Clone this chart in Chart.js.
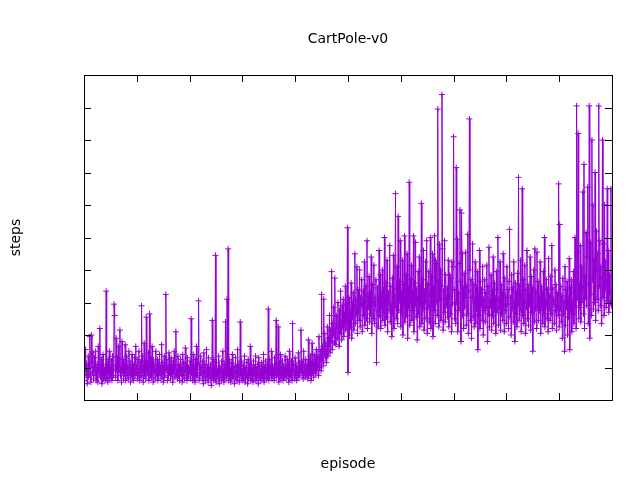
<!DOCTYPE html>
<html>
<head>
<meta charset="utf-8">
<script src="https://cdn.jsdelivr.net/npm/chart.js@4/dist/chart.umd.min.js"></script>
<style>
html,body{margin:0;padding:0;background:#fff;}
#c{display:block;}
</style>
</head>
<body>
<canvas id="c" width="640" height="480"></canvas>
<script>
// steps per episode (episodes 0..999)
const steps = [
24,12,19,31,15,22,10,18,27,14,21,39,16,11,40,23,17,29,13,20,
26,15,30,12,18,22,11,33,19,16,44,14,21,25,10,17,28,13,20,15,
12,19,67,14,22,11,25,17,30,13,20,16,24,12,27,18,15,59,52,21,
14,38,19,26,12,33,17,23,43,15,20,11,36,18,25,13,22,16,34,12,
19,27,15,21,13,30,17,24,11,20,16,28,14,22,12,18,26,15,33,17,
21,13,25,16,30,12,19,23,14,58,17,27,11,20,35,15,24,13,51,18,
22,16,29,12,53,20,15,26,14,33,18,11,24,17,21,13,30,16,19,25,
12,22,15,28,17,20,13,34,16,23,11,19,27,14,21,65,18,25,12,20,
15,29,17,22,13,26,16,20,11,24,18,30,14,21,42,16,19,13,27,15,
22,12,18,25,16,20,11,28,15,23,13,19,32,17,21,12,26,14,20,16,
18,24,13,50,17,22,12,28,15,20,11,25,16,33,14,19,23,61,12,21,
15,27,17,20,13,24,10,29,16,22,12,18,31,14,20,11,26,15,19,13,
22,9,17,49,14,25,12,20,16,89,11,23,15,18,13,27,10,21,16,19,
12,24,14,30,17,11,22,15,48,13,20,62,16,93,12,25,14,19,11,23,
15,28,13,18,21,10,17,26,14,20,12,31,16,22,11,19,48,15,24,13,
18,12,21,15,27,11,19,14,23,16,10,25,13,20,17,33,12,22,15,18,
11,24,16,20,13,27,12,19,15,22,10,26,14,21,17,12,23,15,19,13,
28,11,20,16,24,13,18,22,14,56,12,25,17,20,15,30,13,21,16,19,
12,26,15,22,49,14,20,17,45,11,23,16,28,13,19,15,24,12,21,18,
14,27,16,20,13,25,17,22,11,30,15,19,14,24,12,47,18,22,16,13,
26,15,21,12,19,17,29,14,23,16,20,43,18,24,15,13,30,17,21,14,
25,16,19,22,13,37,18,24,15,27,12,21,35,17,23,14,28,19,25,16,
31,18,22,27,15,39,20,25,30,18,65,24,33,21,62,28,41,26,35,23,
30,45,27,38,33,52,29,43,36,79,31,47,40,57,35,75,42,34,52,44,
38,60,46,33,55,41,67,48,37,58,45,62,39,53,47,70,43,59,50,106,
17,48,63,40,55,45,72,38,60,51,66,43,57,90,47,62,53,82,41,68,
55,49,80,45,63,58,74,42,59,67,52,85,46,61,70,50,98,44,64,57,
76,48,66,53,88,41,60,71,50,83,47,63,58,74,23,55,69,45,61,92,
52,77,44,65,57,80,49,68,54,100,46,63,72,51,86,42,60,66,55,95,
48,70,58,39,75,53,89,44,64,57,127,50,68,82,47,113,55,73,61,98,
45,66,54,86,40,71,59,101,48,63,77,52,90,38,69,57,134,46,74,60,
83,49,66,55,101,42,72,58,97,51,68,37,62,79,53,88,45,70,59,121,
47,74,56,92,43,67,60,85,50,98,41,71,57,79,48,65,100,44,76,58,
90,39,69,55,101,47,86,60,84,52,179,73,45,96,62,80,49,70,188,93,
43,67,54,98,48,77,63,58,69,51,86,45,64,77,53,75,42,85,59,82,
162,68,50,60,47,143,60,99,42,66,55,84,117,73,36,115,90,52,69,44,
78,57,64,91,46,70,53,102,41,67,173,80,49,74,38,63,96,51,71,45,
60,85,47,69,56,79,31,65,52,92,44,73,58,68,49,82,40,62,55,74,
48,66,57,83,36,70,53,94,45,61,58,77,43,67,52,88,47,72,56,63,
41,79,54,68,100,46,62,57,85,43,71,53,66,49,90,58,42,75,55,64,
47,82,59,68,44,73,105,51,63,40,77,56,69,48,85,60,36,72,53,66,
45,78,58,137,49,70,55,86,42,64,130,52,74,47,60,83,41,68,57,92,
50,71,46,65,59,88,43,76,54,69,30,62,80,48,93,56,67,44,91,58,
73,49,63,55,85,41,70,57,66,47,79,53,100,45,61,58,74,50,68,42,
87,56,64,49,76,53,95,44,69,59,62,47,80,55,71,43,66,58,52,133,
45,108,56,70,48,64,38,75,53,61,30,82,46,68,57,73,40,63,51,87,
31,69,55,74,42,60,53,79,47,66,100,58,44,181,62,91,164,50,71,57,
95,48,82,60,69,128,53,145,44,76,63,103,58,88,131,47,71,181,38,97,
65,52,160,74,120,56,86,60,140,49,79,104,62,90,55,181,70,98,58,82,
47,75,160,63,96,52,120,68,85,57,73,130,61,92,54,77,66,60,130,58
];
const xTicks = [0,100,200,300,400,500,600,700,800,900,1000];
const yTicks = [0,20,40,60,80,100,120,140,160,180,200];
const titleText = 'CartPole-v0';
const xLabel = 'episode';
const yLabel = 'steps';

const points = steps.map((v, i) => ({ x: i, y: v }));
const FONT = 'DejaVu Sans';

// gnuplot-like frame: inward ticks on all sides, title and axis labels
const framePlugin = {
    id: 'frame',
    afterDraw(chart) {
        const ctx = chart.ctx;
        const a = chart.chartArea;
        const xs = chart.scales.x, ys = chart.scales.y;
        ctx.save();
        ctx.strokeStyle = '#000';
        ctx.lineWidth = 1;
        ctx.strokeRect(a.left + 0.5, a.top + 0.5, a.right - a.left, a.bottom - a.top);
        ctx.beginPath();
        xTicks.forEach(t => {
            const px = Math.round(xs.getPixelForValue(t)) + 0.5;
            ctx.moveTo(px, a.bottom); ctx.lineTo(px, a.bottom - 7);
            ctx.moveTo(px, a.top); ctx.lineTo(px, a.top + 7);
        });
        yTicks.forEach(t => {
            const py = Math.round(ys.getPixelForValue(t)) + 0.5;
            ctx.moveTo(a.left, py); ctx.lineTo(a.left + 7, py);
            ctx.moveTo(a.right, py); ctx.lineTo(a.right - 7, py);
        });
        ctx.stroke();
        ctx.fillStyle = '#000';
        ctx.font = '14px ' + FONT;
        ctx.textAlign = 'center';
        ctx.textBaseline = 'middle';
        ctx.fillText(titleText, (a.left + a.right) / 2, 39);
        ctx.fillText(xLabel, (a.left + a.right) / 2, 464);
        ctx.translate(16, (a.top + a.bottom) / 2);
        ctx.rotate(-Math.PI / 2);
        ctx.fillText(yLabel, 0, 0);
        ctx.restore();
    }
};

new Chart(document.getElementById('c'), {
    type: 'scatter',
    data: {
        datasets: [{
            data: points,
            showLine: true,
            borderColor: '#9400d3',
            backgroundColor: '#9400d3',
            borderWidth: 1,
            pointStyle: 'cross',
            pointRadius: 3,
            pointBorderWidth: 1,
            tension: 0
        }]
    },
    options: {
        responsive: false,
        animation: false,
        layout: { padding: { left: 84, right: 27, top: 75, bottom: 80 } },
        plugins: { legend: { display: false }, tooltip: { enabled: false } },
        scales: {
            x: {
                type: 'linear', min: 0, max: 1000,
                afterFit(s) { s.height = 0; },
                afterBuildTicks(s) { s.ticks = xTicks.map(v => ({ value: v })); },
                grid: { display: false, drawTicks: false },
                border: { display: false },
                ticks: { color: '#000', font: { family: FONT, size: 14 }, padding: 8, maxRotation: 0 }
            },
            y: {
                min: 0, max: 200,
                afterFit(s) { s.width = 0; },
                afterBuildTicks(s) { s.ticks = yTicks.map(v => ({ value: v })); },
                grid: { display: false, drawTicks: false },
                border: { display: false },
                ticks: { color: '#000', font: { family: FONT, size: 14 }, padding: 8 }
            }
        }
    },
    plugins: [framePlugin]
});
</script>
</body>
</html>
